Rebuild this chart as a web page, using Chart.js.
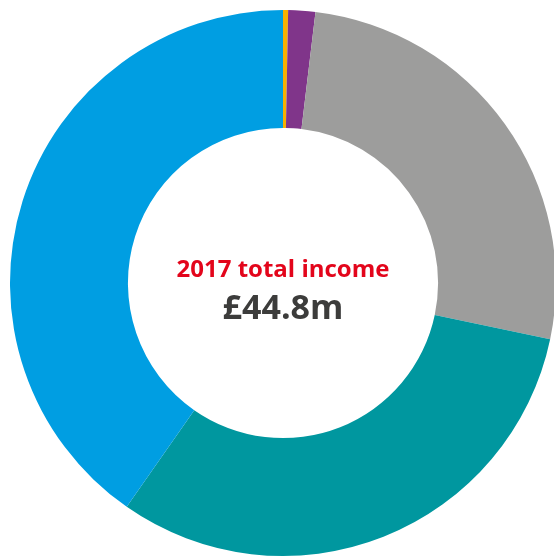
<!DOCTYPE html>
<html><head><meta charset="utf-8">
<script src="https://cdn.jsdelivr.net/npm/chart.js@4"></script>
<style>
html,body{margin:0;padding:0;background:#fff;overflow:hidden;width:554px;height:556px;}
#wrap{position:absolute;left:0;top:0;width:566px;height:566px;}
</style></head><body>
<div id="wrap"><canvas id="c"></canvas></div>
<script>
const categories = ['Other', 'Category 2', 'Category 3', 'Category 4', 'Category 5'];
const shares = [0.3, 1.6, 26.4, 31.4, 40.3];
const colors = ['#F9B000', '#80358A', '#9D9D9C', '#00979F', '#009EE2'];
const titleText = '2017 total income';
const totalText = '£44.8m';

const centerText = {
  id: 'centerText',
  afterDraw(chart) {
    const ctx = chart.ctx;
    const m = chart.getDatasetMeta(0).data[0];
    const x = m.x, y = m.y;
    ctx.save();
    ctx.textAlign = 'center';
    ctx.textBaseline = 'alphabetic';
    ctx.fillStyle = '#E3051B';
    ctx.font = 'bold 24px "Open Sans", sans-serif';
    ctx.fillText(titleText, x, y - 6);
    ctx.fillStyle = '#3C3C3B';
    ctx.font = 'bold 34px "Open Sans", sans-serif';
    ctx.fillText(totalText, x, y + 36);
    ctx.restore();
  }
};

new Chart(document.getElementById('c'), {
  type: 'doughnut',
  data: {
    labels: categories,
    datasets: [{ data: shares, backgroundColor: colors, borderWidth: 0 }]
  },
  options: {
    responsive: true,
    maintainAspectRatio: false,
    animation: false,
    cutout: '56.8%',
    layout: { padding: 10 },
    plugins: { legend: { display: false }, tooltip: { enabled: false } }
  },
  plugins: [centerText]
});
</script>
</body></html>
